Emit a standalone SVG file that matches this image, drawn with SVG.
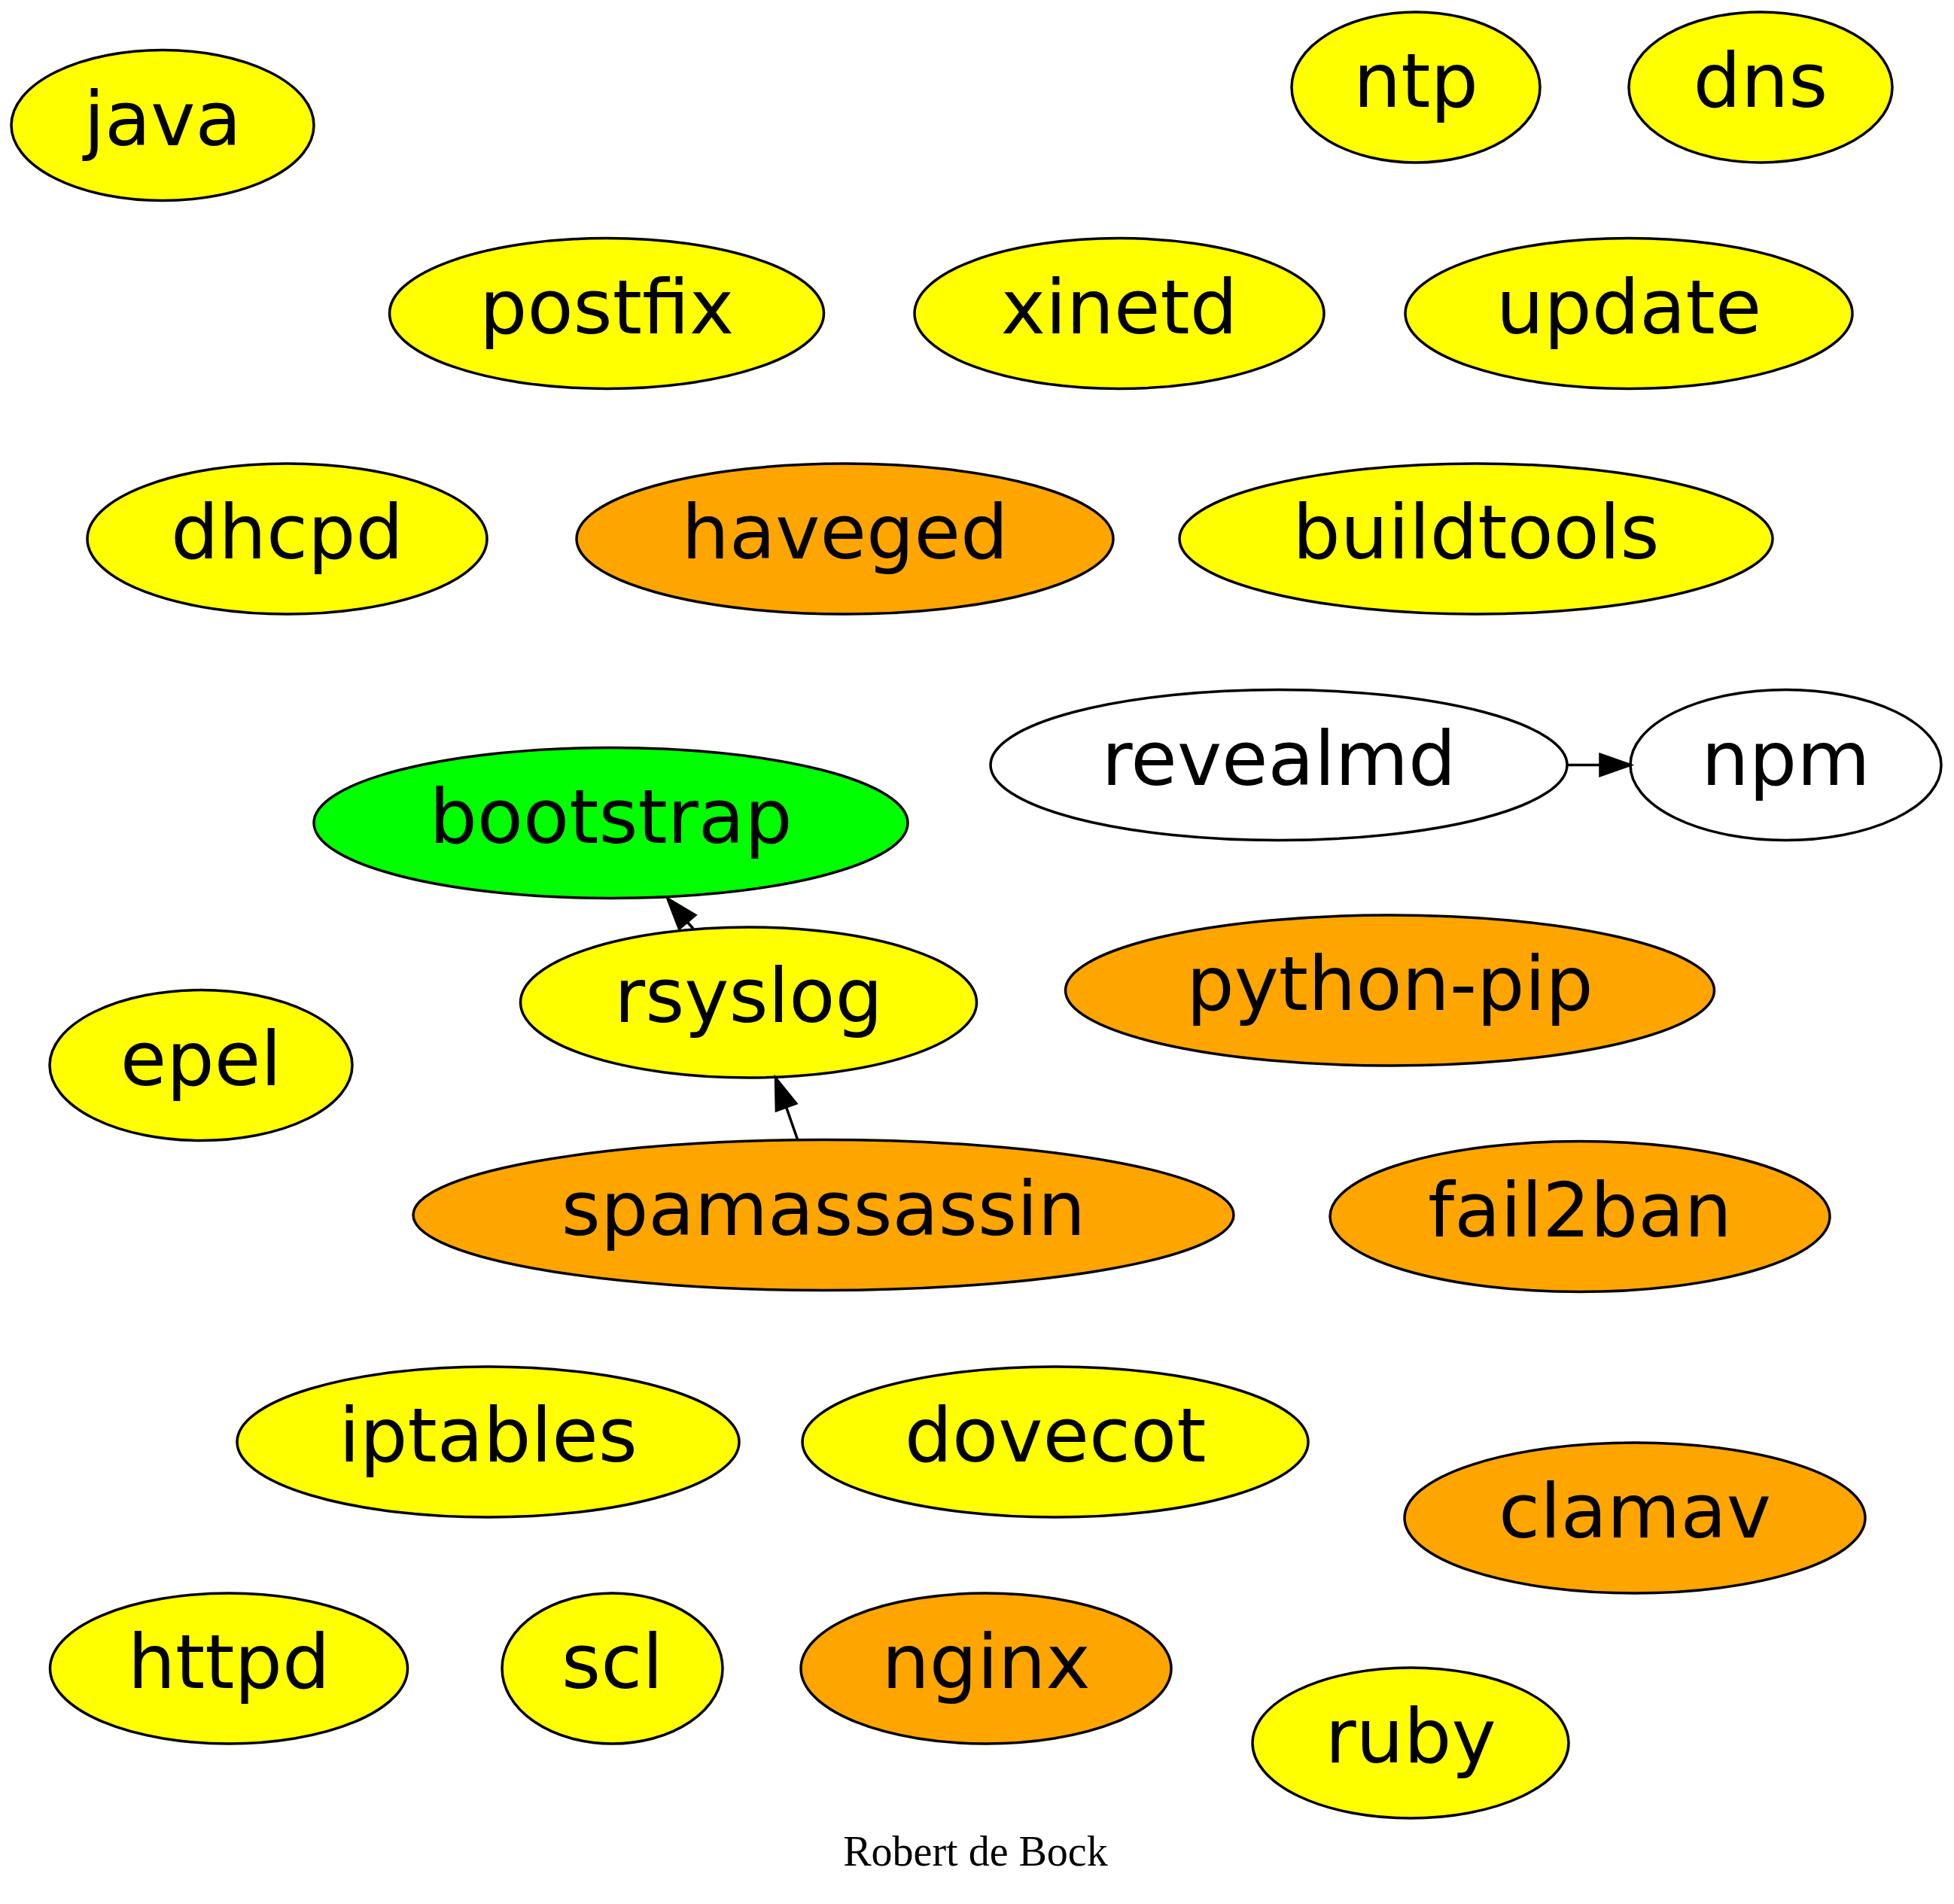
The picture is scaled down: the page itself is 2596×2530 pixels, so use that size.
<svg xmlns="http://www.w3.org/2000/svg" width="2596" height="2530" viewBox="0 0 2596 2530">
<style>
.n ellipse{stroke:#000;stroke-width:3.5}
.y ellipse{fill:#ffff00}
.o ellipse{fill:#ffa500}
.g ellipse{fill:#00ff00}
.w ellipse{fill:#ffffff}
.n text{font-family:"DejaVu Sans",Verdana,sans-serif;font-size:100px;text-anchor:middle;fill:#000}
.e path{fill:none;stroke:#000;stroke-width:3.5}
.e polygon{fill:#000;stroke:#000;stroke-width:3.5}
</style>
<rect width="2596" height="2530" fill="#fff"/>
<g id="java" class="n y"><ellipse cx="216" cy="166.5" rx="201" ry="100"/><text x="216" y="192.5">java</text></g>
<g id="ntp" class="n y"><ellipse cx="1881" cy="116" rx="165" ry="100"/><text x="1881" y="142">ntp</text></g>
<g id="dns" class="n y"><ellipse cx="2339" cy="116" rx="175" ry="100"/><text x="2339" y="142">dns</text></g>
<g id="postfix" class="n y"><ellipse cx="806" cy="416.5" rx="288.5" ry="100"/><text x="806" y="442.5">postfix</text></g>
<g id="xinetd" class="n y"><ellipse cx="1487" cy="416.5" rx="272" ry="100"/><text x="1487" y="442.5">xinetd</text></g>
<g id="update" class="n y"><ellipse cx="2164" cy="416.5" rx="297" ry="100"/><text x="2164" y="442.5">update</text></g>
<g id="dhcpd" class="n y"><ellipse cx="381.5" cy="716" rx="265.5" ry="100"/><text x="381.5" y="742">dhcpd</text></g>
<g id="haveged" class="n o"><ellipse cx="1122.5" cy="716" rx="356.5" ry="100"/><text x="1122.5" y="742">haveged</text></g>
<g id="buildtools" class="n y"><ellipse cx="1961" cy="716" rx="394" ry="100"/><text x="1961" y="742">buildtools</text></g>
<g id="revealmd" class="n w"><ellipse cx="1699" cy="1016.5" rx="383" ry="100"/><text x="1699" y="1042.5">revealmd</text></g>
<g id="npm" class="n w"><ellipse cx="2372.5" cy="1016.5" rx="206.5" ry="100"/><text x="2372.5" y="1042.5">npm</text></g>
<g id="bootstrap" class="n g"><ellipse cx="811.5" cy="1093.5" rx="394.5" ry="100"/><text x="811.5" y="1119.5">bootstrap</text></g>
<g id="rsyslog" class="n y"><ellipse cx="994.5" cy="1332" rx="303" ry="100"/><text x="994.5" y="1358">rsyslog</text></g>
<g id="python-pip" class="n o"><ellipse cx="1846.5" cy="1316" rx="431" ry="100"/><text x="1846.5" y="1342">python-pip</text></g>
<g id="epel" class="n y"><ellipse cx="267" cy="1415.5" rx="201" ry="100"/><text x="267" y="1441.5">epel</text></g>
<g id="spamassassin" class="n o"><ellipse cx="1094" cy="1614.5" rx="545" ry="100"/><text x="1094" y="1640.5">spamassassin</text></g>
<g id="fail2ban" class="n o"><ellipse cx="2099" cy="1616.5" rx="332" ry="100"/><text x="2099" y="1642.5">fail2ban</text></g>
<g id="iptables" class="n y"><ellipse cx="648.5" cy="1916" rx="333.5" ry="100"/><text x="648.5" y="1942">iptables</text></g>
<g id="dovecot" class="n y"><ellipse cx="1402" cy="1916" rx="336" ry="100"/><text x="1402" y="1942">dovecot</text></g>
<g id="clamav" class="n o"><ellipse cx="2172" cy="2017" rx="306" ry="100"/><text x="2172" y="2043">clamav</text></g>
<g id="httpd" class="n y"><ellipse cx="304" cy="2217" rx="237.5" ry="100"/><text x="304" y="2243">httpd</text></g>
<g id="scl" class="n y"><ellipse cx="813.5" cy="2217" rx="146.5" ry="100"/><text x="813.5" y="2243">scl</text></g>
<g id="nginx" class="n o"><ellipse cx="1310" cy="2217" rx="246" ry="100"/><text x="1310" y="2243">nginx</text></g>
<g id="ruby" class="n y"><ellipse cx="1874" cy="2316" rx="210" ry="100"/><text x="1874" y="2342">ruby</text></g>
<g id="edges" class="e">
<path d="M2082,1016.5 L2126,1016.5"/>
<polygon points="2126,1002.5 2166,1016.5 2126,1030.5"/>
<path d="M921,1234 L913,1225"/>
<polygon points="923.7,1216 887,1194 902.3,1234"/>
<path d="M1059.5,1514 L1044.5,1471"/>
<polygon points="1057.6,1466.2 1030.5,1432.7 1031.4,1475.8"/>
</g>
<text x="1296" y="2479" font-family="'Liberation Serif','Times New Roman',serif" font-size="56" text-anchor="middle">Robert de Bock</text>
</svg>
